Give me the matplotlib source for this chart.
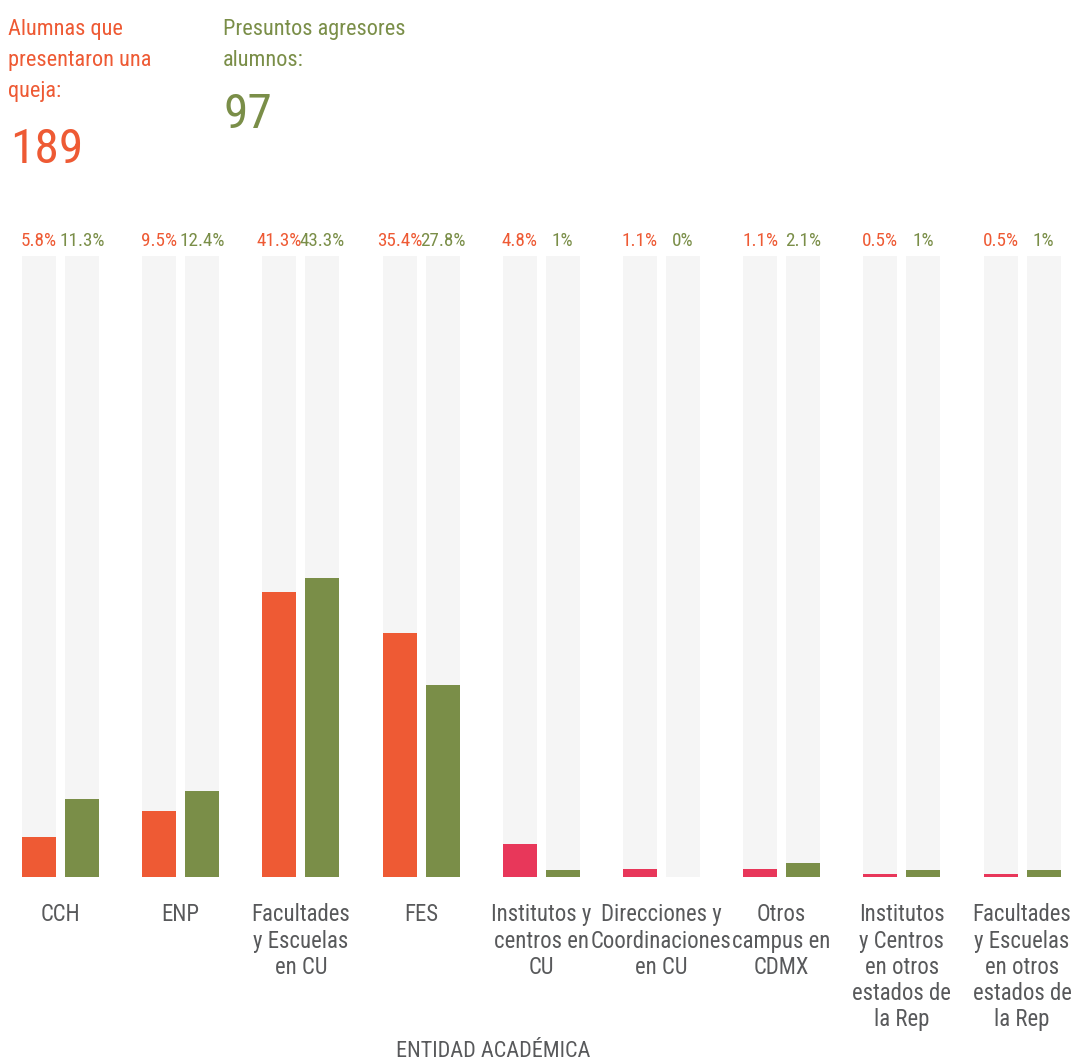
import matplotlib
matplotlib.use('Agg')
import matplotlib.pyplot as plt
from matplotlib import font_manager
from matplotlib.font_manager import FontProperties
from matplotlib.textpath import TextPath
import numpy as np

# Datos: porcentaje por entidad académica
categorias = ['CCH', 'ENP', 'Facultades\ny Escuelas\nen CU', 'FES',
              'Institutos y\ncentros en\nCU', 'Direcciones y\nCoordinaciones\nen CU',
              'Otros\ncampus en\nCDMX', 'Institutos\ny Centros\nen otros\nestados de\nla Rep',
              'Facultades\ny Escuelas\nen otros\nestados de\nla Rep']
alumnas_pct = [5.8, 9.5, 41.3, 35.4, 4.8, 1.1, 1.1, 0.5, 0.5]
agresores_pct = [11.3, 12.4, 43.3, 27.8, 1, 0, 2.1, 1, 1]
total_alumnas = 189
total_agresores = 97
escala_max = 90

ORANGE = '#ee5a34'
PINK = '#e8375a'
GREEN = '#7a8e48'
BG = '#f5f5f5'
GRAY = '#58595b'

# fuente angosta si existe
names = {f.name for f in font_manager.fontManager.ttflist}
FONT = 'DejaVu Sans'
for cand in ['Roboto Condensed', 'Liberation Sans Narrow', 'Open Sans Condensed', 'Roboto']:
    if cand in names:
        FONT = cand
        break
plt.rcParams['font.family'] = [FONT, 'DejaVu Sans']


def fit(sample, width_px):
    # tamaño en puntos para que sample mida width_px a 100 dpi
    w = TextPath((0, 0), sample, size=100, prop=FontProperties(family=FONT)).get_extents().width
    return 100 * width_px / w * 0.72


fs_pct = fit('41.3%', 44)
fs_head = fit('presentaron una', 140)
fs_big = fit('189', 66)
fs_tick = fit('Coordinaciones', 138)
fs_xlab = fit('ENTIDAD ACADÉMICA', 192)

W, H = 1090, 1061
fig = plt.figure(figsize=(W / 100, H / 100), dpi=100)
ax = fig.add_axes([0, 1 - 877 / H, 1, 621 / H])

x = np.arange(len(categorias))
off = 0.179
width = 0.283
alumnas_colors = [ORANGE] * 4 + [PINK] * 5

# Barras de fondo
ax.bar(x - off, escala_max, width, color=BG)
ax.bar(x + off, escala_max, width, color=BG)
# Barras de datos
ax.bar(x - off, alumnas_pct, width, color=alumnas_colors)
ax.bar(x + off, agresores_pct, width, color=GREEN)

for i in x:
    ax.text(i - off, escala_max + 1.45, f'{alumnas_pct[i]:g}%', color=ORANGE,
            ha='center', va='baseline', fontsize=fs_pct)
    ax.text(i + off, escala_max + 1.45, f'{agresores_pct[i]:g}%', color=GREEN,
            ha='center', va='baseline', fontsize=fs_pct)

ax.set_xlim(-0.503, 8.565)
ax.set_ylim(0, escala_max)
ax.set_xticks(x)
ax.set_xticklabels(categorias, fontsize=fs_tick, color=GRAY,
                   linespacing=24.2 / (0.9 * fs_tick / 0.72))
ax.tick_params(axis='x', length=0, pad=19)
ax.set_yticks([])
for s in ax.spines.values():
    s.set_visible(False)

# Encabezados
for j, line in enumerate(['Alumnas que', 'presentaron una', 'queja:']):
    fig.text(8 / W, 1 - (35 + 31 * j) / H, line, color=ORANGE, fontsize=fs_head,
             va='baseline', ha='left')
fig.text(10 / W, 1 - 163 / H, str(total_alumnas), color=ORANGE, fontsize=fs_big,
         va='baseline', ha='left')
for j, line in enumerate(['Presuntos agresores', 'alumnos:']):
    fig.text(223 / W, 1 - (35 + 31 * j) / H, line, color=GREEN, fontsize=fs_head,
             va='baseline', ha='left')
fig.text(223 / W, 1 - 128 / H, str(total_agresores), color=GREEN, fontsize=fs_big,
         va='baseline', ha='left')

fig.text(493 / W, 1 - 1057 / H, 'ENTIDAD ACADÉMICA', color=GRAY, fontsize=fs_xlab,
         ha='center', va='baseline')

fig.savefig('out.png', dpi=100)
